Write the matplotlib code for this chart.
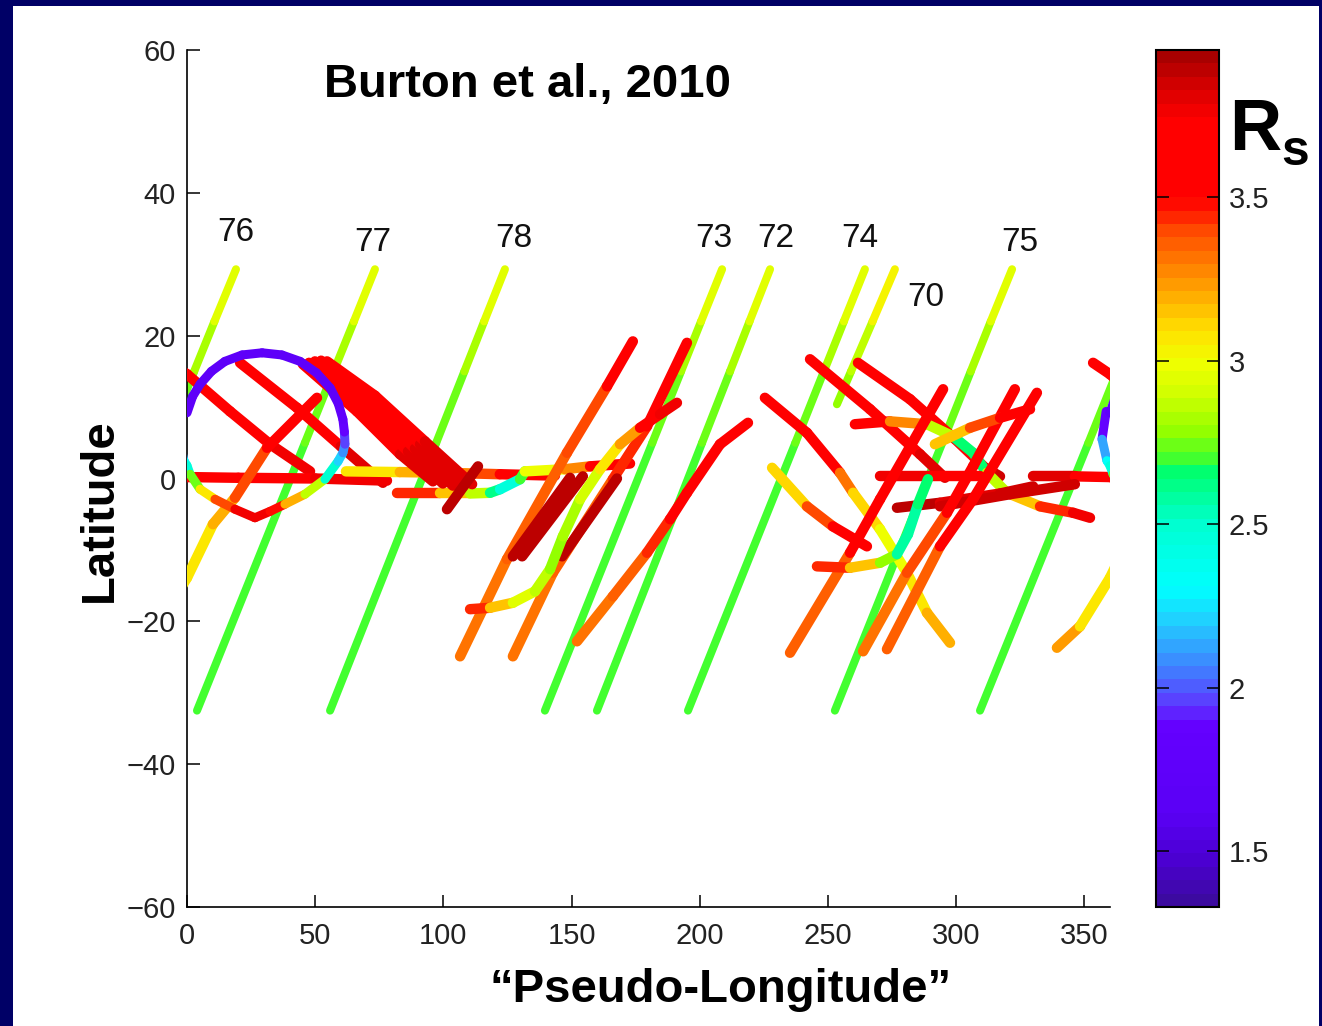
import numpy as np
import matplotlib
matplotlib.use('Agg')
import matplotlib.pyplot as plt
from matplotlib.collections import LineCollection
from matplotlib.colors import LinearSegmentedColormap, Normalize
from matplotlib.cm import ScalarMappable
from matplotlib.patches import Rectangle

plt.rcParams['font.family'] = ['Liberation Sans', 'DejaVu Sans']

# ---- data (pseudo-longitude, latitude, Rs) ----
# long rotation tracks, green -> yellow
rot_lat = [-32.5, 5.0, 15.0, 22.0, 29.3]
rot_rs = [2.70, 2.70, 2.78, 2.90, 3.00]
rot_lon = [
    [3.9, 46.0, 57.2, 65.1, 73.3],        # 77
    [55.8, 97.2, 108.2, 115.9, 124.0],    # 78
    [139.6, 181.5, 192.7, 200.5, 208.7],  # 73
    [159.9, 200.9, 211.8, 219.4, 227.4],  # 72
    [195.4, 237.3, 248.4, 256.2, 264.4],  # 74
    [252.7, 294.6, 305.7, 313.5, 321.8],  # 75
    [309.3, 351.6, 362.8, 370.7, 379.1],  # 76 (wraps)
]
cr70_lon = [253.5, 259.0, 267.4, 276.1]
cr70_lat = [10.4, 15.0, 22.0, 29.3]
cr70_rs = [2.75, 2.82, 2.95, 3.08]

label_text = ['76', '77', '78', '73', '72', '74', '70', '75']
label_lon = [19.1, 72.5, 127.5, 205.5, 229.7, 262.5, 288.3, 324.9]
label_lat = [34.4, 33.1, 33.6, 33.6, 33.6, 33.6, 25.3, 33.1]

# the loop near 0-60 deg (wraps at 0/360)
circle_lon = [-1.5, -3.1, -1.2, 0.0, 1.2, 5.1, 10.9, 18.7, 26.5, 32.4, 38.2, 46.0,
              53.8, 58.9, 60.8, 61.6, 61.4, 60.8, 59.0, 55.8, 50.5, 44.1, 37.0,
              29.3, 21.5, 14.8, 9.5, 5.1, 2.2, 0.0]
circle_lat = [9.4, 5.5, 2.5, 1.8, 0.6, -1.5, -2.9, -4.3, -5.5, -4.6, -3.6, -2.2,
              -0.1, 2.4, 3.6, 4.8, 6.5, 8.3, 10.5, 12.7, 14.8, 16.4, 17.3,
              17.6, 17.3, 16.4, 15.0, 13.2, 11.5, 9.2]
circle_rs = [1.75, 2.0, 2.25, 2.4, 2.55, 2.9, 3.2, 3.6, 3.9, 3.6, 3.35, 3.0,
             2.7, 2.3, 2.15, 2.0, 1.92, 1.85, 1.78, 1.72, 1.7, 1.7, 1.7,
             1.7, 1.7, 1.7, 1.7, 1.7, 1.7, 1.7]

# other tracks
track_lon = [
    [353.4, 360.0, 376.8, 392.4, 408.0],
    [20.7, 42.9, 60.0, 76.4],
    [330.0, 346.3, 360.0, 380.0, 410.0, 438.0],
    [62.0, 83.0, 100.0, 112.0, 122.0, 143.5],
    [81.9, 98.7, 110.4, 118.2, 122.1, 129.9, 131.8, 147.4, 157.2, 172.8],
    [45.2, 66.3, 83.1, 95.9],
    [47.6, 68.3, 86.2, 99.8],
    [49.9, 70.2, 88.9, 103.7],
    [52.3, 71.4, 90.9, 107.6],
    [54.6, 73.3, 92.8, 111.2],
    [101.4, 113.5],
    [339.3, 348.3, 360.0, 370.1, 378.7, 391.2, 410.7],
    [106.5, 124.8, 148.2, 163.8, 173.9],
    [127.1, 142.7, 166.1, 179.4, 195.0],
    [127.1, 149.4],
    [130.7, 154.4],
    [146.3, 167.7],
    [110.4, 118.2, 127.1, 135.7, 141.6, 146.6, 153.3, 161.1, 168.9, 176.7, 184.5, 191.1],
    [152.1, 166.1, 179.4, 188.4, 195.0, 207.9, 218.8],
    [225.4, 241.8, 254.7, 259.8, 270.3, 280.8, 288.6, 297.6],
    [228.2, 241.8, 251.9, 265.2],
    [243.0, 266.4, 285.9, 295.6],
    [261.7, 282.0, 299.6, 311.3, 317.1],
    [260.5, 274.2, 288.6, 298.8, 306.6, 312.0, 319.8, 332.7, 345.6, 352.2],
    [270.3, 289.8, 309.3],
    [276.9, 293.7, 317.1, 330.0],
    [293.7, 321.0, 346.3],
    [235.2, 258.6, 270.3, 294.9],
    [263.7, 280.8, 296.4, 306.6, 322.9],
    [273.0, 293.7, 306.6, 331.5],
    [291.7, 305.4, 317.1, 328.8],
    [245.7, 258.6, 270.3, 276.9, 281.2, 285.1, 289.0],
]
track_lat = [
    [16.2, 14.6, 9.4, 4.8, 1.0],
    [16.2, 9.9, 4.5, -0.6],
    [0.3, 0.3, 0.2, 0.1, 0.0, -0.3],
    [1.0, 0.9, 0.8, 0.7, 0.6, 0.4],
    [-2.1, -2.1, -2.1, -2.0, -1.5, -0.1, 1.0, 1.3, 1.7, 2.1],
    [16.0, 9.4, 3.4, -0.4],
    [16.2, 9.9, 3.8, -0.7],
    [16.4, 10.5, 4.2, -1.0],
    [16.5, 11.2, 4.8, -1.1],
    [16.4, 11.6, 5.2, -0.8],
    [-4.3, 1.7],
    [-23.7, -20.7, -13.9, -6.4, -2.7, 4.3, 11.3],
    [-24.9, -11.3, 3.6, 12.9, 19.2],
    [-24.9, -13.2, -0.1, 7.3, 19.0],
    [-10.9, 0.1],
    [-10.9, 0.3],
    [-10.9, 0.0],
    [-18.3, -18.1, -17.4, -15.8, -12.7, -8.1, -2.9, 1.3, 4.8, 7.1, 9.0, 10.6],
    [-22.8, -16.5, -10.4, -5.7, -2.0, 4.8, 7.8],
    [11.3, 6.4, 0.8, -2.0, -7.1, -13.2, -18.8, -23.0],
    [1.5, -3.9, -6.7, -9.5],
    [16.7, 9.7, 3.4, 0.1],
    [16.2, 11.1, 5.5, 1.5, 0.3],
    [7.6, 8.0, 7.6, 5.9, 3.6, 0.8, -2.0, -3.9, -4.8, -5.5],
    [0.3, 0.3, 0.3],
    [-4.1, -3.4, -2.1, -1.1],
    [-3.9, -2.2, -0.8],
    [-24.4, -10.4, -2.9, 12.5],
    [-24.2, -13.2, -4.8, 1.7, 12.5],
    [-23.9, -9.5, -2.9, 12.0],
    [4.8, 7.1, 8.5, 9.7],
    [-12.3, -12.5, -11.8, -10.6, -7.8, -3.6, -0.1],
]
track_rs = [
    [3.6, 3.6, 3.6, 3.65, 3.85],
    [3.6, 3.6, 3.7, 3.95],
    [3.9, 3.7, 3.6, 3.6, 3.6, 3.9],
    [3.0, 3.15, 3.25, 3.3, 3.5, 3.65],
    [3.6, 3.3, 3.0, 2.75, 2.45, 2.5, 2.9, 3.05, 3.5, 3.9],
    [3.6, 3.6, 3.7, 3.95],
    [3.6, 3.6, 3.7, 3.95],
    [3.6, 3.6, 3.7, 3.95],
    [3.6, 3.6, 3.7, 3.95],
    [3.6, 3.6, 3.7, 3.95],
    [3.9, 3.9],
    [3.3, 3.15, 3.0, 3.1, 3.3, 3.5, 3.85],
    [3.3, 3.35, 3.35, 3.45, 3.6],
    [3.3, 3.32, 3.38, 3.5, 3.6],
    [3.9, 3.9],
    [3.9, 3.9],
    [3.9, 3.9],
    [3.6, 3.3, 3.0, 2.9, 2.8, 2.78, 2.85, 3.0, 3.1, 3.4, 3.6, 3.9],
    [3.3, 3.32, 3.4, 3.45, 3.55, 3.6, 3.65],
    [3.6, 3.6, 3.4, 3.2, 3.0, 3.0, 3.1, 3.25],
    [3.0, 3.25, 3.55, 3.75],
    [3.6, 3.6, 3.7, 3.95],
    [3.6, 3.6, 3.62, 3.75, 3.95],
    [3.9, 3.55, 3.0, 2.7, 2.6, 2.7, 3.0, 3.3, 3.6, 3.9],
    [3.9, 3.6, 3.6],
    [3.9, 3.85, 3.8, 3.9],
    [3.9, 3.8, 3.9],
    [3.3, 3.4, 3.6, 3.6],
    [3.3, 3.35, 3.45, 3.6, 3.6],
    [3.3, 3.4, 3.6, 3.6],
    [3.0, 3.3, 3.5, 3.9],
    [3.6, 3.3, 3.0, 2.6, 2.55, 2.6, 2.7],
]

# ---- colour map (banded, jet-like) ----
vmin, vmax = 1.33, 3.95
stops = [(1.33, '#3c0aa0'), (1.45, '#4a00d0'), (1.6, '#5a00f5'), (1.87, '#6400ff'),
         (1.95, '#5a40ff'), (2.05, '#4080ff'), (2.2, '#20d0ff'), (2.3, '#00ffff'),
         (2.5, '#00ffd0'), (2.66, '#00ff70'), (2.70, '#40ff30'), (2.78, '#90ff00'),
         (2.9, '#d0ff00'), (3.0, '#f0ff00'), (3.1, '#ffe000'), (3.2, '#ffb000'),
         (3.3, '#ff8000'), (3.4, '#ff5000'), (3.48, '#ff1000'), (3.52, '#ff0000'),
         (3.75, '#ff0000'), (3.85, '#d80000'), (3.95, '#a80000')]
cmap = LinearSegmentedColormap.from_list(
    'rs', [((v - vmin) / (vmax - vmin), c) for v, c in stops]).resampled(64)
norm = Normalize(vmin, vmax)

W, H = 1322, 1026
fig = plt.figure(figsize=(W / 100, H / 100), dpi=100, facecolor='#000066')
fig.add_artist(Rectangle((13 / W, 0), (1319 - 13) / W, (H - 6) / H,
                         transform=fig.transFigure, facecolor='white',
                         edgecolor='none', zorder=0))

ax = fig.add_axes([187 / W, 1 - 907 / H, (1110 - 187) / W, 857 / H])
ax.set_facecolor('white')


def draw_track(lon, lat, rs, lw, z=2):
    pts = np.column_stack([lon, lat])
    segs = np.stack([pts[:-1], pts[1:]], axis=1)
    rs = np.asarray(rs)
    val = (rs[:-1] + rs[1:]) / 2
    for shift in (-360, 0, 360):
        s = segs.copy()
        s[:, :, 0] += shift
        if s[:, :, 0].max() < -5 or s[:, :, 0].min() > 365:
            continue
        lc = LineCollection(s, cmap=cmap, norm=norm, linewidths=lw,
                            capstyle='round', joinstyle='round', zorder=z)
        lc.set_array(val)
        ax.add_collection(lc)


for lons in rot_lon:
    draw_track(lons, rot_lat, rot_rs, 5.8, z=2)
draw_track(cr70_lon, cr70_lat, cr70_rs, 5.8, z=2)
for lons, lats, rss in zip(track_lon, track_lat, track_rs):
    draw_track(lons, lats, rss, 7.5, z=3)
draw_track(circle_lon, circle_lat, circle_rs, 6.5, z=4)

for t, x, y in zip(label_text, label_lon, label_lat):
    ax.text(x, y, t, ha='center', va='center', fontsize=24, color='#111111')

ax.set_xlim(0, 360)
ax.set_ylim(-60, 60)
ax.set_xticks(np.arange(0, 351, 50))
ax.set_yticks(np.arange(-60, 61, 20))
for side in ('top', 'right'):
    ax.spines[side].set_visible(False)
for side in ('left', 'bottom'):
    ax.spines[side].set_linewidth(1.2)
ax.tick_params(direction='in', length=9, width=1.1, labelsize=21,
               labelcolor='#222222')
ax.tick_params(axis='x', pad=11)
ax.tick_params(axis='y', pad=8)

# colourbar
cax = fig.add_axes([1156 / W, 1 - 907 / H, 63 / W, 857 / H])
cb = fig.colorbar(ScalarMappable(norm=norm, cmap=cmap), cax=cax,
                  ticks=[1.5, 2, 2.5, 3, 3.5])
cb.ax.set_yticklabels(['1.5', '2', '2.5', '3', '3.5'])
cax.tick_params(direction='in', left=True, right=True, length=9, width=1.1,
                labelsize=21, labelcolor='#222222', pad=7)
cb.outline.set_linewidth(1.5)

# labels
fig.text(527 / W, 1 - 85 / H, 'Burton et al., 2010', ha='center', va='center',
         fontsize=34, fontweight='bold')
fig.text(100 / W, 1 - 510 / H, 'Latitude', ha='center', va='center',
         rotation=90, fontsize=34, fontweight='bold')
fig.text(721 / W, 1 - 990 / H, '\u201cPseudo-Longitude\u201d', ha='center',
         va='center', fontsize=34, fontweight='bold')
fig.text(1229 / W, 1 - 150 / H, 'R', ha='left', va='baseline',
         fontsize=52, fontweight='bold')
fig.text(1281 / W, 1 - 165 / H, 's', ha='left', va='baseline',
         fontsize=36, fontweight='bold')

fig.savefig('out.png', dpi=100, facecolor=fig.get_facecolor())
